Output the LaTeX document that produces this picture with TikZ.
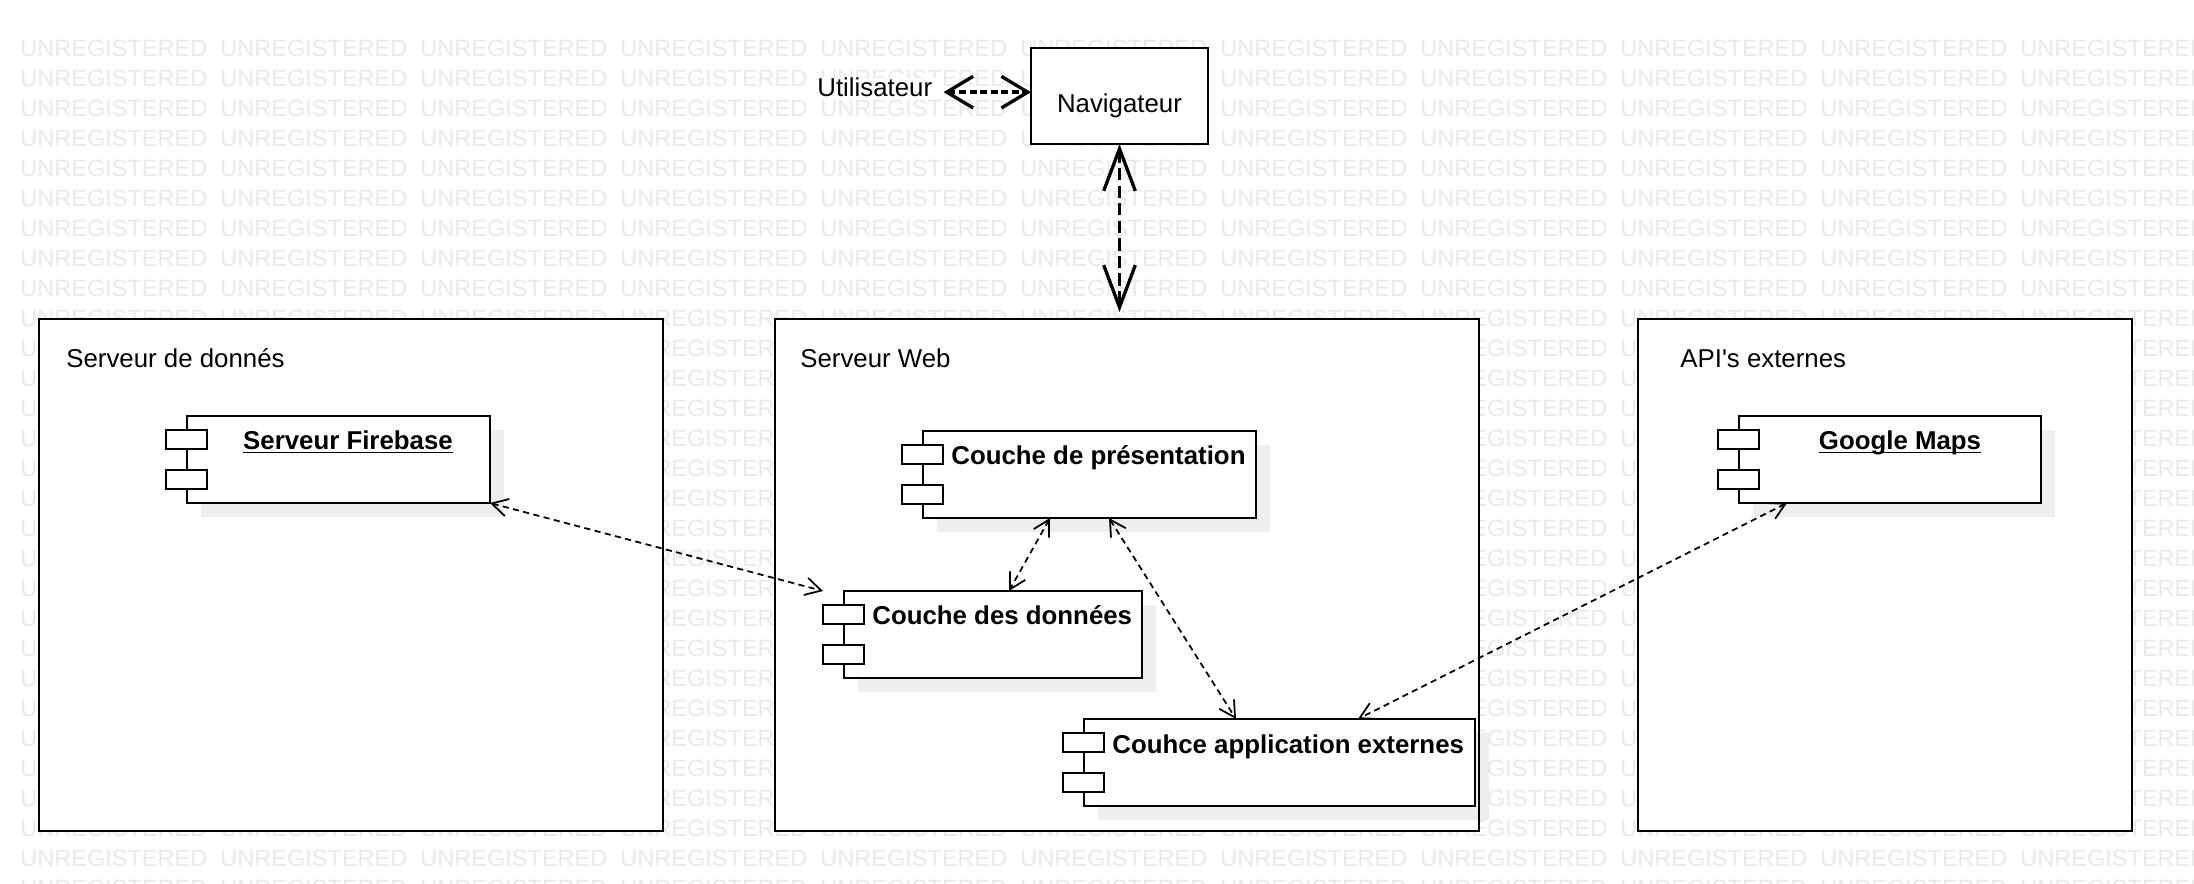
\documentclass[tikz,border=0pt]{standalone}
\usepackage{fontspec}
\setmainfont{Liberation Sans}
\usetikzlibrary{arrows.meta,calc,shadows}
\definecolor{filigrane}{RGB}{233,233,233}
\definecolor{ombre}{RGB}{238,238,238}

\begin{document}
\begin{tikzpicture}[x=0.02cm, y=-0.02cm]
			\tikzset{texte/.style={font=\fontsize{14.7pt}{17pt}\selectfont, inner sep=0pt},
			gras/.style={font=\fontsize{14.7pt}{17pt}\selectfont\bfseries, inner sep=0pt},
			cadre/.style={draw=black, fill=white, line width=1.1pt, anchor=north west, inner sep=0pt, outer sep=0pt},
			composant/.style={cadre, drop shadow={shadow xshift=0.28cm, shadow yshift=-0.28cm, fill=ombre, opacity=1}},
			port/.style={draw=black, fill=white, line width=1.1pt},
			lien/.style={<->, >={Straight Barb[length=9pt,width=10pt]}, line width=1pt, dash pattern=on 3.5pt off 2.5pt},
			fleche/.style={<->, line width=1.9pt}};

			\useasboundingbox (0,0) rectangle (2194,884);
			\fill[white] (0,0) rectangle (2194,884);

			\foreach \i in {0,...,10}{
				\foreach \j in {0,...,28}{
					\node[font=\fontsize{13.4pt}{15pt}\selectfont, text=filigrane, inner sep=0pt, anchor=base west] (wm-\i-\j) at (20+200*\i, 56.5+30*\j) {UNREGISTERED};
				}
			}

			\foreach \name/\x/\w/\dx/\titre in {donnees/39/624/27/Serveur de donnés, web/775/704/25/Serveur Web, api/1638/494/42/API\textquotesingle s externes}{
				\node[cadre, minimum width=\w*0.02cm, minimum height=512*0.02cm] (\name) at (\x,319) {};
				\node[texte, anchor=base west] (t-\name) at ($(\name.north west)+(\dx,49)$) {\titre};
			}

			\node[cadre, minimum width=177*0.02cm, minimum height=96*0.02cm] (nav) at (1031,48) {};
			\node[texte, anchor=base] (t-nav) at ($(nav.north west)+(88.5,65)$) {Navigateur};
			\node[texte, fill=white, inner xsep=0.22cm, anchor=base west] (util) at (806,97) {Utilisateur};

			\foreach \name/\x/\y/\w in {firebase/187/416/303, pres/923/431/333, couche/844/591/298, app/1084/719/391, gmaps/1739/416/302}{
				\node[composant, minimum width=\w*0.02cm, minimum height=87*0.02cm] (\name) at (\x,\y) {};
				\draw[port] ($(\name.north west)+(-21,14)$) rectangle +(41,19);
				\draw[port] ($(\name.north west)+(-21,54)$) rectangle +(41,19);
			}
			% bord du serveur web par-dessus l'ombre
			\draw[line width=1.1pt] (web.north west) rectangle (web.south east);

			\node[gras, anchor=base] (l-firebase) at ($(firebase.north west)+(161,34)$) {\underline{\smash{Serveur Firebase}}};
			\node[gras, anchor=base] (l-gmaps) at ($(gmaps.north west)+(161,34)$) {\underline{\smash{Google Maps}}};
			\node[gras, anchor=base west] (l-pres) at ($(pres.north west)+(28,34)$) {Couche de présentation};
			\node[gras, anchor=base west] (l-couche) at ($(couche.north west)+(28,34)$) {Couche des données};
			\node[gras, anchor=base west] (l-app) at ($(app.north west)+(28,34)$) {Couhce application externes};

			\draw[fleche, >={Straight Barb[length=15pt,width=18pt]}, dash pattern=on 4pt off 2pt] ([yshift=-0.088cm]util.east) -- ([yshift=-0.088cm]util.east -| nav.west);
			\draw[fleche, >={Straight Barb[length=24pt,width=18pt]}, dash pattern=on 7pt off 3pt] (nav.south) -- ($(nav.south |- web.north)+(0,-7)$);

			\draw[lien] (firebase.south east) -- ($(couche.north west)+(-21,0)$);
			\draw[lien] ($(pres.south west)+(127,0)$) -- ($(couche.north west)+(165,0)$);
			\draw[lien] ($(pres.south west)+(186,0)$) -- ($(app.north west)+(152,0)$);
			\draw[lien] ($(gmaps.south west)+(48,0)$) -- ($(app.north west)+(274,0)$);

		\end{tikzpicture}
\end{document}
